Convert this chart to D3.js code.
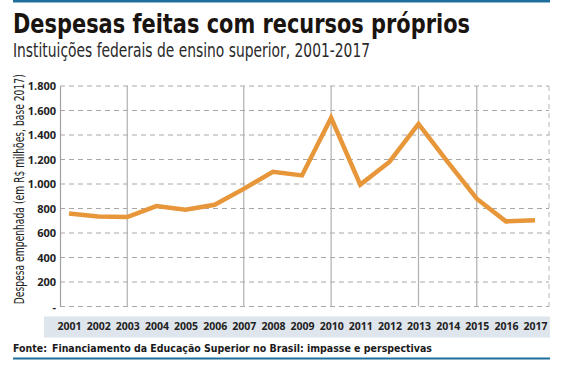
<!DOCTYPE html>
<html>
<head>
<meta charset="utf-8">
<script src="https://cdn.jsdelivr.net/npm/d3@7"></script>
<style>
  body { margin: 0; background: #fff; }
  svg { display: block; }
</style>
</head>
<body>
<svg id="chart" width="564" height="365"></svg>
<script>
// data
var years = [2001, 2002, 2003, 2004, 2005, 2006, 2007, 2008, 2009, 2010, 2011, 2012, 2013, 2014, 2015, 2016, 2017];
var despesa = [760, 735, 730, 820, 790, 830, 960, 1100, 1070, 1540, 995, 1180, 1490, 1180, 880, 695, 705];
var yTicks = [0, 200, 400, 600, 800, 1000, 1200, 1400, 1600, 1800];
var markYears = [2003, 2007, 2010, 2013, 2015];

var svg = d3.select('#chart'),
    plotLeft = 60, plotRight = 549, plotTop = 86, plotBottom = 306.5,
    condensed = '"Liberation Sans Narrow", "DejaVu Sans Condensed", sans-serif',
    boldFont = '"Open Sans", "DejaVu Sans", sans-serif',
    ptFmt = function (v) { return v === 0 ? '-' : d3.format(',')(v).replace(/,/g, '.'); };

var x = d3.scalePoint().domain(years).range([69, 535]);
var y = d3.scaleLinear().domain([0, 1800]).range([plotBottom, plotTop]);

// top & bottom rules
svg.append('rect').attr('x', 13).attr('y', 0).attr('width', 537).attr('height', 2.5).attr('fill', '#1f6e9c');
svg.append('rect').attr('x', 13).attr('y', 357.5).attr('width', 537).attr('height', 2).attr('fill', '#1f6e9c');

// titles
svg.append('text')
    .attr('x', 13).attr('y', 33)
    .attr('textLength', 457).attr('lengthAdjust', 'spacingAndGlyphs')
    .style('font-family', condensed).style('font-weight', 'bold').style('font-size', '26px')
    .attr('fill', '#1a1410')
    .text('Despesas feitas com recursos próprios');

svg.append('text')
    .attr('x', 13).attr('y', 56.5)
    .attr('textLength', 357).attr('lengthAdjust', 'spacingAndGlyphs')
    .style('font-family', condensed).style('font-size', '19px')
    .attr('fill', '#2a2a2a')
    .text('Instituições federais de ensino superior, 2001-2017');

// grid
var g = svg.append('g');
g.selectAll('line.h').data(yTicks).enter().append('line')
    .attr('class', 'h')
    .attr('x1', plotLeft).attr('x2', plotRight)
    .attr('y1', function (d) { return y(d); }).attr('y2', function (d) { return y(d); })
    .attr('stroke', '#a8a8a8').attr('stroke-width', 1).attr('stroke-dasharray', '5,4');

g.append('line')
    .attr('x1', plotRight).attr('x2', plotRight).attr('y1', plotTop).attr('y2', plotBottom)
    .attr('stroke', '#b8b8b8').attr('stroke-width', 1).attr('stroke-dasharray', '5,4');

g.selectAll('line.v').data(markYears).enter().append('line')
    .attr('class', 'v')
    .attr('x1', function (d) { return x(d); }).attr('x2', function (d) { return x(d); })
    .attr('y1', plotTop).attr('y2', plotBottom)
    .attr('stroke', '#b0b0b0').attr('stroke-width', 1.2);

// y axis
var yAxis = svg.append('g')
    .attr('transform', 'translate(' + plotLeft + ',0)')
    .call(d3.axisLeft(y).tickValues(yTicks).tickSize(0).tickPadding(4).tickFormat(ptFmt));
yAxis.select('.domain').attr('stroke', '#a0a0a0').attr('stroke-width', 1.2);
yAxis.selectAll('text')
    .style('font-family', boldFont).style('font-weight', 'bold').style('font-size', '11px')
    .attr('fill', '#222');

svg.append('text')
    .attr('transform', 'translate(24,' + ((plotBottom + 72) / 2) + ') rotate(-90)')
    .attr('text-anchor', 'middle')
    .attr('textLength', 230).attr('lengthAdjust', 'spacingAndGlyphs')
    .style('font-family', condensed).style('font-size', '13.5px')
    .attr('fill', '#222')
    .text('Despesa empenhada  (em R$ milhões, base 2017)');

// x label band
svg.append('rect')
    .attr('x', 44).attr('y', 316.5).attr('width', 506).attr('height', 21)
    .attr('fill', '#dfe5ec');

var xAxis = svg.append('g')
    .attr('transform', 'translate(0,321)')
    .call(d3.axisBottom(x).tickSize(0).tickPadding(0));
xAxis.select('.domain').remove();
xAxis.selectAll('text')
    .attr('dy', '0.9em')
    .style('font-family', boldFont).style('font-weight', 'bold').style('font-size', '10.5px')
    .attr('fill', '#222');

// line
var line = d3.line()
    .x(function (d, i) { return x(years[i]); })
    .y(function (d) { return y(d); });

svg.append('path')
    .datum(despesa)
    .attr('d', line)
    .attr('fill', 'none')
    .attr('stroke', '#e8963a')
    .attr('stroke-width', 4.5)
    .attr('stroke-linejoin', 'miter');

// source
var src = svg.append('text')
    .attr('x', 13).attr('y', 352)
    .style('font-family', condensed).style('font-size', '10.5px')
    .attr('fill', '#1a1a1a');
src.append('tspan').style('font-weight', 'bold').text('Fonte:');
src.append('tspan').attr('dx', 5).style('font-weight', 'bold')
    .text('Financiamento da Educação Superior no Brasil: impasse e perspectivas');
</script>
</body>
</html>
